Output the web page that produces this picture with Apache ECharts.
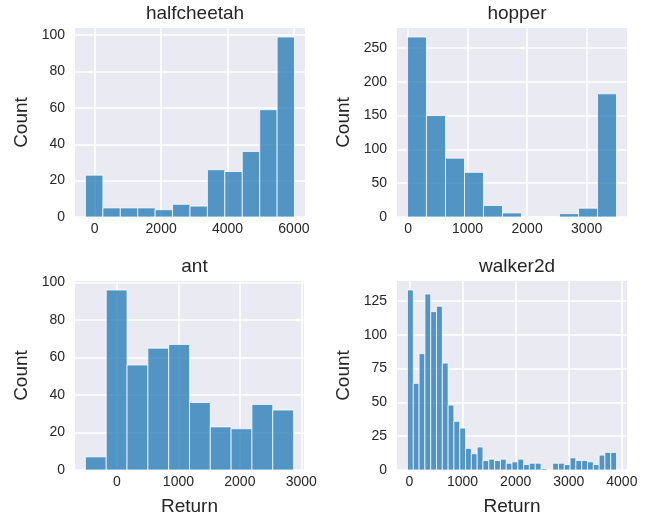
<!DOCTYPE html>
<html>
<head>
<meta charset="utf-8">
<title>returns</title>
<style>
  html, body { margin: 0; padding: 0; background: #fff; }
  #main { width: 660px; height: 518px; }
</style>
</head>
<body>
<div id="main"></div>
<script src="https://cdn.jsdelivr.net/npm/echarts@6/dist/echarts.min.js"></script>
<script>
// histogram data: bin edges + counts per env
var envNames = ['halfcheetah', 'hopper', 'ant', 'walker2d'];

var halfcheetahEdges = [-280, 245, 770, 1295, 1820, 2345, 2870, 3395, 3920, 4445, 4970, 5495, 6020];
var halfcheetahCounts = [23, 5, 5, 5, 4, 7, 6, 26, 25, 36, 59, 99];

var hopperEdges = [-10, 309, 629, 948, 1267, 1587, 1906, 2225, 2544, 2864, 3183, 3502];
var hopperCounts = [266, 150, 87, 66, 17, 6, 0, 0, 5, 13, 182];

var antEdges = [-514, -175, 164, 503, 842, 1181, 1519, 1858, 2197, 2536, 2875];
var antCounts = [7, 96, 56, 65, 67, 36, 23, 22, 35, 32];

var walkerEdges = [-38, 72, 181, 291, 400, 509, 619, 728, 837, 947, 1056, 1166, 1275,
  1384, 1494, 1603, 1713, 1822, 1931, 2041, 2150, 2259, 2369, 2478, 2588, 2697,
  2806, 2916, 3025, 3134, 3244, 3353, 3463, 3572, 3681, 3791, 3900];
var walkerCounts = [133, 64, 86, 130, 117, 121, 79, 48, 36, 31, 16, 12, 17,
  7, 8, 7, 8, 5, 6, 8, 4, 5, 5, 1, 0, 5, 5, 4, 9, 7, 7, 6, 4, 11, 13, 13];

// tick labels
var halfcheetahXTicks = [0, 2000, 4000, 6000];
var halfcheetahYTicks = [0, 20, 40, 60, 80, 100];
var hopperXTicks = [0, 1000, 2000, 3000];
var hopperYTicks = [0, 50, 100, 150, 200, 250];
var antXTicks = [0, 1000, 2000, 3000];
var antYTicks = [0, 20, 40, 60, 80, 100];
var walkerXTicks = [0, 1000, 2000, 3000, 4000];
var walkerYTicks = [0, 25, 50, 75, 100, 125];

var panels = [
  { edges: halfcheetahEdges, counts: halfcheetahCounts, xt: halfcheetahXTicks, yt: halfcheetahYTicks,
    grid: { left: 75, top: 28, width: 230, height: 189 }, xlab: false },
  { edges: hopperEdges, counts: hopperCounts, xt: hopperXTicks, yt: hopperYTicks,
    grid: { left: 397, top: 28, width: 230, height: 189 }, xlab: false },
  { edges: antEdges, counts: antCounts, xt: antXTicks, yt: antYTicks,
    grid: { left: 75, top: 281, width: 229, height: 189 }, xlab: true },
  { edges: walkerEdges, counts: walkerCounts, xt: walkerXTicks, yt: walkerYTicks,
    grid: { left: 397, top: 281, width: 230, height: 189 }, xlab: true }
];

var FONT = '"Liberation Sans", Arial, sans-serif';
var INK = '#262626';

var option = {
  backgroundColor: '#fff',
  animation: false,
  title: [], grid: [], xAxis: [], yAxis: [], series: []
};

panels.forEach(function (p, i) {
  var lo = p.edges[0], hi = p.edges[p.edges.length - 1];
  var pad = (hi - lo) * 0.05;   // matplotlib default margin
  var ymax = Math.max.apply(null, p.counts) * 1.05;

  option.grid.push(Object.assign({ backgroundColor: '#EAEAF2', show: true, borderWidth: 0 }, p.grid));
  option.title.push({
    text: envNames[i],
    left: p.grid.left + p.grid.width / 2,
    top: p.grid.top - 29,
    textAlign: 'center',
    textStyle: { fontFamily: FONT, fontSize: 19, fontWeight: 'normal', color: INK }
  });
  option.xAxis.push({
    type: 'value', gridIndex: i, min: lo - pad, max: hi + pad,
    name: p.xlab ? 'Return' : '', nameLocation: 'middle', nameGap: 27,
    nameTextStyle: { fontFamily: FONT, fontSize: 19, color: INK },
    axisLine: { show: false },
    axisTick: { show: false, customValues: p.xt },
    axisLabel: { customValues: p.xt, fontFamily: FONT, fontSize: 14, color: INK, margin: 5,
      formatter: function (v) { return String(v); } },
    splitLine: { show: true, lineStyle: { color: '#fff', width: 1.5 } }
  });
  option.yAxis.push({
    type: 'value', gridIndex: i, min: 0, max: ymax,
    name: 'Count', nameLocation: 'middle', nameGap: 44, nameRotate: 90,
    nameTextStyle: { fontFamily: FONT, fontSize: 19, color: INK },
    axisLine: { show: false },
    axisTick: { show: false, customValues: p.yt },
    axisLabel: { customValues: p.yt, fontFamily: FONT, fontSize: 14, color: INK, margin: 10 },
    splitLine: { show: true, lineStyle: { color: '#fff', width: 1.5 } }
  });

  var rows = p.counts.map(function (c, k) { return [p.edges[k], p.edges[k + 1], c]; });
  option.series.push({
    type: 'custom', xAxisIndex: i, yAxisIndex: i,
    data: rows,
    encode: { x: [0, 1], y: 2 },
    renderItem: function (params, api) {
      var a = api.coord([api.value(0), api.value(2)]);
      var b = api.coord([api.value(1), 0]);
      return {
        type: 'rect',
        shape: { x: a[0], y: a[1], width: b[0] - a[0], height: b[1] - a[1] },
        style: { fill: 'rgba(31,119,180,0.75)', stroke: 'rgba(255,255,255,0.75)', lineWidth: 1 }
      };
    }
  });
});

var chart = echarts.init(document.getElementById('main'));
chart.setOption(option);
</script>
</body>
</html>
